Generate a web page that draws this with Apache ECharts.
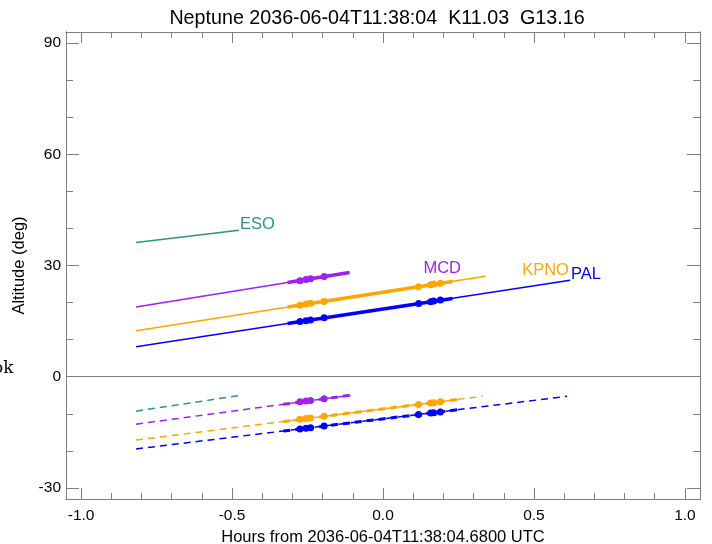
<!DOCTYPE html>
<html>
<head>
<meta charset="utf-8">
<script src="https://cdn.jsdelivr.net/npm/echarts/dist/echarts.min.js"></script>
<style>
html,body{margin:0;padding:0;background:#fff;overflow:hidden;}
#chart{width:712px;height:544px;}
</style>
</head>
<body>
<div id="chart"></div>
<script>
// ---- data (hours from reference time, altitude in degrees) ----
const stations = ['ESO', 'MCD', 'KPNO', 'PAL'];

const altESO  = [[-0.818, 36.2], [-0.477, 39.5]];
const altMCD  = [[-0.818, 18.8], [-0.111, 28.1]];
const altKPNO = [[-0.818, 12.4], [0.339, 27.1]];
const altPAL  = [[-0.818, 8.1], [0.62, 26.0]];

const winMCD  = [[-0.316, 25.4], [-0.111, 28.1]];
const winKPNO = [[-0.316, 18.8], [0.23, 25.7]];
const winPAL  = [[-0.316, 14.35], [0.23, 21.1]];

const dotMCD  = [[-0.275, 25.9], [-0.255, 26.2], [-0.24, 26.4], [-0.195, 27.0]];
const dotKPNO = [[-0.275, 19.3], [-0.255, 19.6], [-0.24, 19.8], [-0.195, 20.3],
                 [0.118, 24.3], [0.158, 24.8], [0.168, 25.0], [0.19, 25.2]];
const dotPAL  = [[-0.275, 14.9], [-0.255, 15.1], [-0.24, 15.3], [-0.195, 15.9],
                 [0.118, 19.75], [0.158, 20.2], [0.168, 20.4], [0.19, 20.7]];

const lowESO  = [[-0.818, -9.3], [-0.477, -5.1]];
const lowMCD  = [[-0.818, -12.8], [-0.107, -5.0]];
const lowKPNO = [[-0.818, -17.1], [0.33, -5.3]];
const lowPAL  = [[-0.818, -19.5], [0.61, -5.3]];

const lowWinMCD  = [[-0.33, -7.45], [-0.107, -5.0]];
const lowWinKPNO = [[-0.33, -12.1], [0.25, -6.1]];
const lowWinPAL  = [[-0.33, -14.65], [0.25, -8.9]];

const lowDotMCD  = [[-0.275, -6.75], [-0.255, -6.55], [-0.24, -6.4], [-0.195, -5.95]];
const lowDotKPNO = [[-0.275, -11.5], [-0.255, -11.3], [-0.24, -11.15], [-0.195, -10.7],
                    [0.118, -7.5], [0.158, -7.1], [0.168, -7.0], [0.19, -6.75]];
const lowDotPAL  = [[-0.275, -14.1], [-0.255, -13.9], [-0.24, -13.75], [-0.195, -13.3],
                    [0.118, -10.2], [0.158, -9.8], [0.168, -9.7], [0.19, -9.5]];

const labelAnchors = [[-0.474, 41.1], [0.134, 29.3], [0.461, 28.7], [0.623, 27.7]];

const xMajor = [-1.0, -0.5, 0.0, 0.5, 1.0];
const xMinor = [-1.0, -0.9, -0.8, -0.7, -0.6, -0.5, -0.4, -0.3, -0.2, -0.1, 0.0,
                0.1, 0.2, 0.3, 0.4, 0.5, 0.6, 0.7, 0.8, 0.9, 1.0];
const yMajor = [-30, 0, 30, 60, 90];
const yMinor = [-30, -20, -10, 0, 10, 20, 30, 40, 50, 60, 70, 80, 90];

const titleText = 'Neptune 2036-06-04T11:38:04  K11.03  G13.16';
const xName = 'Hours from 2036-06-04T11:38:04.6800 UTC';
const yName = 'Altitude (deg)';

// ---- styles ----
const colorOf = { ESO: '#2a9585', MCD: '#a020f0', KPNO: '#ffa500', PAL: '#0000ff' };
const axisGray = '#808080';
const FONT = 'Liberation Sans, Arial, Helvetica, sans-serif';

function xAx(position, values, len, showLabel, showName) {
  return {
    type: 'value', position: position, min: -1.05, max: 1.05,
    axisLine: { show: true, onZero: false, lineStyle: { color: axisGray, width: 1 } },
    axisTick: { show: true, inside: true, length: len, customValues: values,
                lineStyle: { color: axisGray, width: 1 } },
    axisLabel: { show: showLabel, customValues: xMajor, margin: 9,
                 color: '#000', fontSize: 15.5, fontFamily: FONT,
                 formatter: v => v.toFixed(1) },
    splitLine: { show: false },
    name: showName ? xName : '', nameLocation: 'middle', nameGap: 21,
    nameTextStyle: { color: '#000', fontSize: 16.5, fontFamily: FONT }
  };
}
function yAx(position, values, len, showLabel, showName) {
  return {
    type: 'value', position: position, min: -33, max: 93,
    axisLine: { show: true, onZero: false, lineStyle: { color: axisGray, width: 1 } },
    axisTick: { show: true, inside: true, length: len, customValues: values,
                lineStyle: { color: axisGray, width: 1 } },
    axisLabel: { show: showLabel, customValues: yMajor, margin: 5,
                 color: '#000', fontSize: 15.5, fontFamily: FONT,
                 formatter: v => String(Math.round(v)) },
    splitLine: { show: false },
    name: showName ? yName : '', nameLocation: 'middle', nameGap: 34,
    nameTextStyle: { color: '#000', fontSize: 16.5, fontFamily: FONT }
  };
}

function line(data, color, width, dashed, z) {
  return {
    type: 'line', data: data, showSymbol: false, symbol: 'none', silent: true,
    lineStyle: { color: color, width: width, type: dashed ? [7, 5] : 'solid' },
    z: z || 3, animation: false
  };
}
function dots(data, color) {
  return {
    type: 'scatter', data: data, symbol: 'circle', symbolSize: 7, silent: true,
    itemStyle: { color: color, opacity: 1 }, z: 5, animation: false
  };
}

const series = [];
// zero reference line
series.push({
  type: 'line', data: [], silent: true, animation: false,
  markLine: { silent: true, symbol: ['none', 'none'], label: { show: false },
              lineStyle: { color: axisGray, width: 1, type: 'solid' },
              data: [{ yAxis: 0 }], animation: false }
});
series.push(line(altESO, colorOf.ESO, 1.5));
series.push(line(altMCD, colorOf.MCD, 1.5));
series.push(line(altKPNO, colorOf.KPNO, 1.5));
series.push(line(altPAL, colorOf.PAL, 1.5));
series.push(line(winMCD, colorOf.MCD, 3.5, false, 4));
series.push(line(winKPNO, colorOf.KPNO, 3.5, false, 4));
series.push(line(winPAL, colorOf.PAL, 3.5, false, 4));
series.push(dots(dotMCD, colorOf.MCD));
series.push(dots(dotKPNO, colorOf.KPNO));
series.push(dots(dotPAL, colorOf.PAL));

series.push(line(lowESO, colorOf.ESO, 1.5, true));
series.push(line(lowMCD, colorOf.MCD, 1.5, true));
series.push(line(lowKPNO, colorOf.KPNO, 1.5, true));
series.push(line(lowPAL, colorOf.PAL, 1.5, true));
series.push(line(lowWinMCD, colorOf.MCD, 3, true, 4));
series.push(line(lowWinKPNO, colorOf.KPNO, 3, true, 4));
series.push(line(lowWinPAL, colorOf.PAL, 3, true, 4));
series.push(dots(lowDotMCD, colorOf.MCD));
series.push(dots(lowDotKPNO, colorOf.KPNO));
series.push(dots(lowDotPAL, colorOf.PAL));

// station name labels
stations.forEach((s, i) => {
  series.push({
    type: 'scatter', symbolSize: 0, silent: true, animation: false, z: 6,
    itemStyle: { opacity: 1 },
    data: [labelAnchors[i]],
    label: { show: true, position: 'right', distance: 0, formatter: s, opacity: 1,
             color: colorOf[s], fontSize: 16.5, fontFamily: FONT,
             textBorderWidth: 0 }
  });
});

const chart = echarts.init(document.getElementById('chart'), null, { renderer: 'canvas' });
chart.setOption({
  animation: false,
  backgroundColor: '#fff',
  title: {
    text: titleText, left: 372, top: 4, textAlign: 'center',
    textStyle: { color: '#000', fontSize: 19.7, fontWeight: 'normal', fontFamily: FONT }
  },
  grid: { left: 66, right: 12, top: 32, bottom: 45, containLabel: false,
          outerBoundsMode: 'none' },
  xAxis: [
    xAx('bottom', xMajor, 11, true, true),
    xAx('bottom', xMinor, 6, false, false),
    xAx('top', xMajor, 11, false, false),
    xAx('top', xMinor, 6, false, false)
  ],
  yAxis: [
    yAx('left', yMajor, 13, true, true),
    yAx('left', yMinor, 7, false, false),
    yAx('right', yMajor, 13, false, false),
    yAx('right', yMinor, 7, false, false)
  ],
  graphic: [{
    type: 'text', left: -7, top: 360, silent: true,
    style: { text: 'ok', fill: '#000', font: '17px "DejaVu Serif", serif' }
  }],
  series: series
});
</script>
</body>
</html>
